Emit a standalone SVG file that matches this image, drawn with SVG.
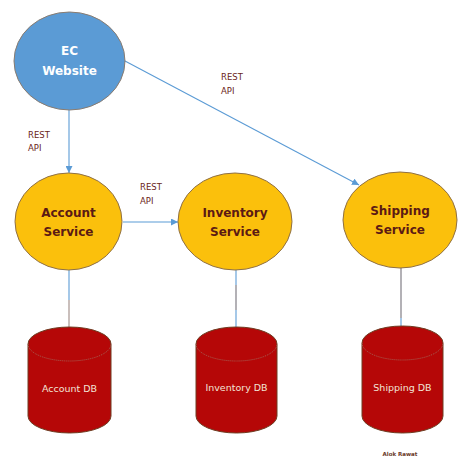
<svg xmlns="http://www.w3.org/2000/svg" width="471" height="465" viewBox="0 0 471 465">
<style>
.svc{fill:#FBC00C;stroke:#8f7045;stroke-width:1}
.web{fill:#5B9BD5;stroke:#8a7c70;stroke-width:1}
.db{fill:#B50707;stroke:#6e3d22;stroke-width:1}
.dbtop{fill:none;stroke:#a0786a;stroke-width:0.8;stroke-dasharray:1 1}
.t{font-family:"DejaVu Sans",Verdana,sans-serif;font-weight:bold;font-size:12px;text-anchor:middle}
.ts{fill:#5b1a14}
.tw{fill:#ffffff}
.lbl{font-family:"DejaVu Sans",Verdana,sans-serif;font-size:8.5px;fill:#6b2418}
.dbt{font-family:"DejaVu Sans",Verdana,sans-serif;font-size:9.5px;fill:#f2e4d6;text-anchor:middle}
.c{stroke:#5B9BD5;stroke-width:1.1;fill:none}
.g{stroke:#b8aaa6;stroke-width:1.5;fill:none}
</style>
<defs>
<marker id="ah" viewBox="0 0 10 10" refX="10" refY="5" markerWidth="7" markerHeight="7" orient="auto" markerUnits="userSpaceOnUse">
<path d="M0,0 L10,5 L0,10 z" fill="#5B9BD5"/>
</marker>
</defs>
<rect width="471" height="465" fill="#ffffff"/>
<g id="connectors">
<line class="c" x1="69" y1="110" x2="69" y2="173" marker-end="url(#ah)"/>
<line class="c" x1="123" y1="222" x2="178" y2="222" marker-end="url(#ah)"/>
<line class="c" x1="125" y1="61" x2="359" y2="185" marker-end="url(#ah)"/>
<line class="c" x1="69" y1="270" x2="69" y2="300"/>
<line class="g" x1="69" y1="300" x2="69" y2="327"/>
<line class="c" x1="236" y1="270" x2="236" y2="327"/>
<line class="g" x1="236" y1="285" x2="236" y2="310"/>
<line class="c" x1="401" y1="268" x2="401" y2="326"/>
<line class="g" x1="401" y1="268" x2="401" y2="318"/>
<text class="lbl" x="28" y="138">REST</text>
<text class="lbl" x="28" y="151">API</text>
<text class="lbl" x="140" y="190">REST</text>
<text class="lbl" x="140" y="204">API</text>
<text class="lbl" x="221" y="80">REST</text>
<text class="lbl" x="221" y="94">API</text>
</g>
<g id="ec-website">
<ellipse class="web" cx="69.5" cy="61" rx="55.5" ry="49"/>
<text class="t tw" x="69.5" y="55">EC</text>
<text class="t tw" x="69.5" y="75">Website</text>
</g>
<g id="account-service">
<ellipse class="svc" cx="68.5" cy="221.5" rx="53.5" ry="48.5"/>
<text class="t ts" x="68.5" y="217">Account</text>
<text class="t ts" x="68.5" y="236">Service</text>
</g>
<g id="inventory-service">
<ellipse class="svc" cx="235" cy="221.5" rx="57" ry="48.5"/>
<text class="t ts" x="235" y="217">Inventory</text>
<text class="t ts" x="235" y="236">Service</text>
</g>
<g id="shipping-service">
<ellipse class="svc" cx="400" cy="220" rx="57" ry="48"/>
<text class="t ts" x="400" y="215">Shipping</text>
<text class="t ts" x="400" y="234">Service</text>
</g>
<g id="account-db">
<path class="db" d="M28,344 A41.5,17 0 0 1 111,344 L111,416 A41.5,17 0 0 1 28,416 Z"/>
<path class="dbtop" d="M28,344 A41.5,17 0 0 0 111,344"/>
<text class="dbt" x="69.5" y="392">Account DB</text>
</g>
<g id="inventory-db">
<path class="db" d="M196,344 A40.5,17 0 0 1 277,344 L277,416 A40.5,17 0 0 1 196,416 Z"/>
<path class="dbtop" d="M196,344 A40.5,17 0 0 0 277,344"/>
<text class="dbt" x="236.5" y="391">Inventory DB</text>
</g>
<g id="shipping-db">
<path class="db" d="M362,343 A40.5,17 0 0 1 443,343 L443,416 A40.5,17 0 0 1 362,416 Z"/>
<path class="dbtop" d="M362,343 A40.5,17 0 0 0 443,343"/>
<text class="dbt" x="402.5" y="391">Shipping DB</text>
</g>
<text x="400" y="456" font-family="DejaVu Sans,Verdana,sans-serif" font-size="5.5" font-weight="bold" fill="#6b3a2a" text-anchor="middle">Alok Rawat</text>
</svg>
